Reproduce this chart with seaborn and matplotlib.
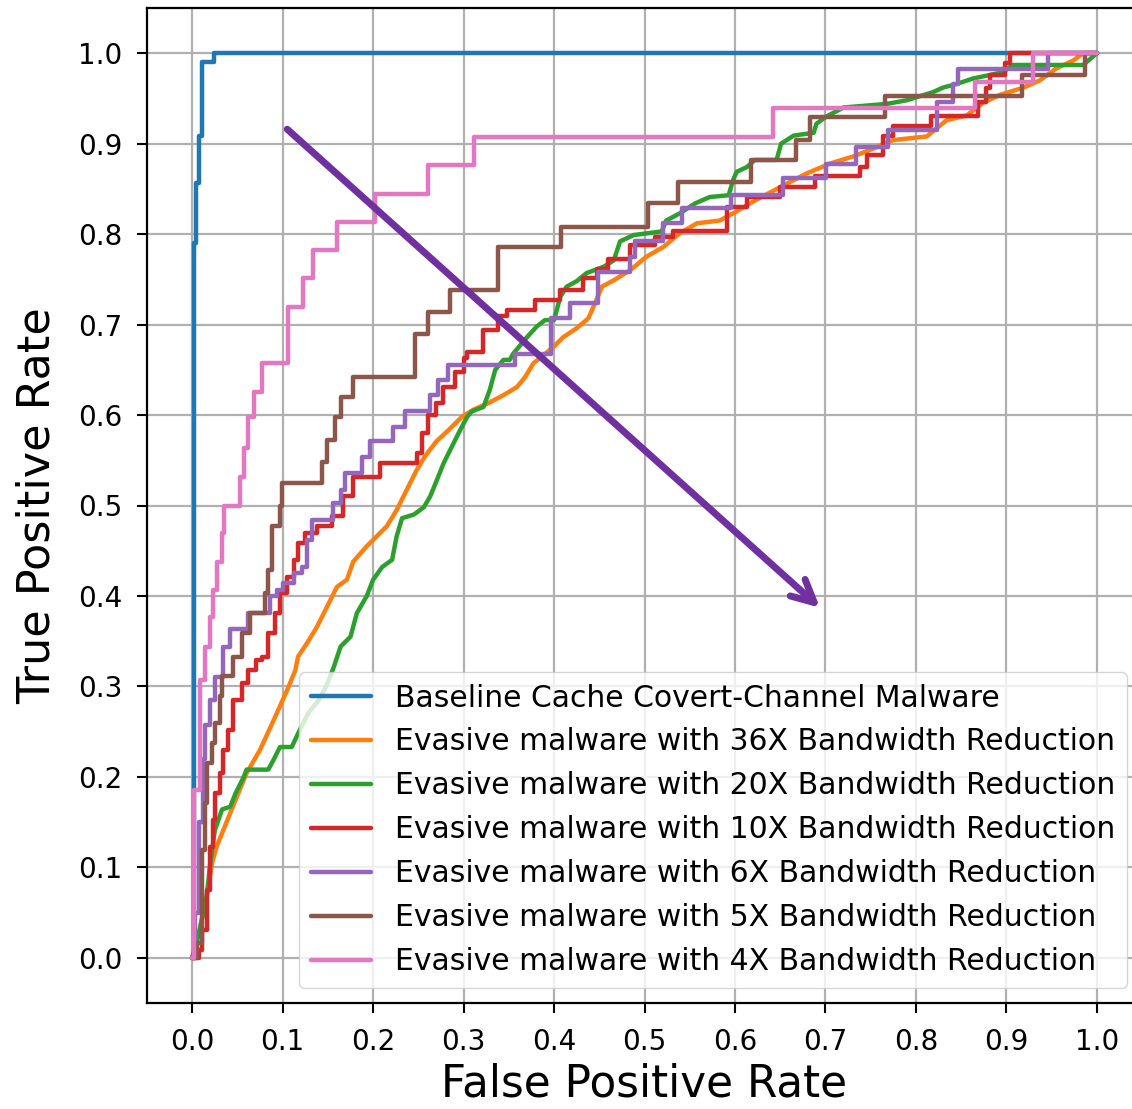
import matplotlib
matplotlib.use("Agg")
import matplotlib.pyplot as plt
import seaborn as sns

# ---------------- data ----------------
labels = [
    "Baseline Cache Covert-Channel Malware",
    "Evasive malware with 36X Bandwidth Reduction",
    "Evasive malware with 20X Bandwidth Reduction",
    "Evasive malware with 10X Bandwidth Reduction",
    "Evasive malware with 6X Bandwidth Reduction",
    "Evasive malware with 5X Bandwidth Reduction",
    "Evasive malware with 4X Bandwidth Reduction",
]

fpr_base = [0, 0.0015, 0.004, 0.007, 0.011, 0.024, 1.0]
tpr_base = [0, 0.79, 0.857, 0.909, 0.99, 1.0, 1.0]

fpr_36x = [0, 0.008, 0.016, 0.022, 0.027, 0.042, 0.06, 0.075, 0.092, 0.105,
           0.114, 0.117, 0.127, 0.138, 0.149, 0.16, 0.171, 0.178, 0.193, 0.2,
           0.215, 0.226, 0.237, 0.248, 0.257, 0.27, 0.283, 0.298, 0.311, 0.327,
           0.344, 0.359, 0.368, 0.377, 0.388, 0.399, 0.41, 0.425, 0.438, 0.445,
           0.453, 0.466, 0.484, 0.502, 0.521, 0.539, 0.558, 0.583, 0.598, 0.62,
           0.65, 0.679, 0.705, 0.731, 0.749, 0.775, 0.812, 0.834, 0.856, 0.874,
           0.893, 0.919, 0.937, 0.955, 0.974, 0.985, 1.0]
tpr_36x = [0, 0.03, 0.068, 0.105, 0.123, 0.16, 0.204, 0.23, 0.267, 0.296,
           0.318, 0.333, 0.348, 0.366, 0.388, 0.41, 0.418, 0.438, 0.455, 0.462,
           0.477, 0.495, 0.517, 0.539, 0.554, 0.571, 0.583, 0.598, 0.606, 0.613,
           0.622, 0.631, 0.642, 0.657, 0.666, 0.675, 0.686, 0.696, 0.707, 0.723,
           0.742, 0.749, 0.76, 0.775, 0.786, 0.801, 0.812, 0.815, 0.823, 0.836,
           0.852, 0.867, 0.878, 0.886, 0.893, 0.904, 0.908, 0.926, 0.931, 0.945,
           0.954, 0.962, 0.97, 0.983, 0.992, 1.0, 1.0]

fpr_20x = [0, 0.008, 0.016, 0.02, 0.025, 0.033, 0.042, 0.048, 0.057, 0.06,
           0.084, 0.09, 0.097, 0.11, 0.118, 0.128, 0.14, 0.148, 0.156, 0.164,
           0.175, 0.182, 0.193, 0.2, 0.21, 0.221, 0.226, 0.232, 0.245, 0.256,
           0.263, 0.27, 0.278, 0.287, 0.296, 0.304, 0.309, 0.322, 0.329, 0.335,
           0.344, 0.351, 0.355, 0.37, 0.381, 0.39, 0.4, 0.407, 0.414, 0.425,
           0.436, 0.455, 0.466, 0.473, 0.488, 0.519, 0.524, 0.539, 0.556, 0.572,
           0.593, 0.598, 0.602, 0.613, 0.622, 0.646, 0.651, 0.665, 0.687, 0.69,
           0.701, 0.72, 0.768, 0.79, 0.819, 0.83, 0.845, 0.863, 0.896, 0.907,
           0.985, 1.0]
tpr_20x = [0, 0.03, 0.068, 0.105, 0.141, 0.164, 0.167, 0.182, 0.2, 0.208,
           0.208, 0.219, 0.233, 0.233, 0.25, 0.27, 0.285, 0.3, 0.32, 0.344,
           0.355, 0.381, 0.4, 0.418, 0.432, 0.44, 0.466, 0.486, 0.49, 0.498,
           0.51, 0.527, 0.547, 0.565, 0.583, 0.598, 0.604, 0.609, 0.628, 0.65,
           0.661, 0.661, 0.668, 0.686, 0.698, 0.705, 0.705, 0.731, 0.742, 0.748,
           0.757, 0.764, 0.771, 0.792, 0.799, 0.803, 0.815, 0.823, 0.834, 0.841,
           0.843, 0.86, 0.869, 0.874, 0.882, 0.882, 0.9, 0.909, 0.912, 0.922,
           0.93, 0.94, 0.944, 0.948, 0.957, 0.962, 0.966, 0.972, 0.979, 0.987,
           0.987, 1.0]

fpr_10x = [0, 0.007, 0.011, 0.016, 0.02, 0.023, 0.025, 0.031, 0.034, 0.04,
           0.045, 0.055, 0.062, 0.071, 0.077, 0.084, 0.092, 0.097, 0.105, 0.112,
           0.117, 0.125, 0.138, 0.154, 0.167, 0.178, 0.208, 0.248, 0.254, 0.261,
           0.27, 0.277, 0.291, 0.3, 0.304, 0.322, 0.338, 0.348, 0.379, 0.407,
           0.432, 0.447, 0.46, 0.484, 0.512, 0.532, 0.591, 0.613, 0.65, 0.688,
           0.738, 0.746, 0.764, 0.775, 0.817, 0.869, 0.878, 0.882, 0.898, 0.904,
           1.0]
tpr_10x = [0, 0.009, 0.031, 0.075, 0.123, 0.152, 0.182, 0.204, 0.23, 0.252,
           0.285, 0.304, 0.318, 0.329, 0.333, 0.359, 0.381, 0.403, 0.421, 0.44,
           0.458, 0.47, 0.477, 0.488, 0.51, 0.532, 0.547, 0.558, 0.58, 0.6,
           0.613, 0.631, 0.648, 0.663, 0.67, 0.694, 0.709, 0.716, 0.727, 0.738,
           0.751, 0.762, 0.773, 0.788, 0.797, 0.804, 0.83, 0.841, 0.852, 0.864,
           0.874, 0.887, 0.908, 0.92, 0.931, 0.946, 0.962, 0.976, 0.989, 1.0,
           1.0]

fpr_6x = [0, 0.003, 0.008, 0.012, 0.014, 0.02, 0.025, 0.034, 0.042, 0.062,
          0.086, 0.094, 0.1, 0.112, 0.121, 0.127, 0.132, 0.156, 0.164, 0.169,
          0.188, 0.197, 0.222, 0.235, 0.263, 0.272, 0.283, 0.357, 0.397, 0.418,
          0.449, 0.484, 0.49, 0.521, 0.541, 0.596, 0.653, 0.701, 0.734, 0.769,
          0.823, 0.841, 0.847, 0.946, 1.0]
tpr_6x = [0, 0.05, 0.15, 0.22, 0.257, 0.285, 0.31, 0.344, 0.364, 0.381,
          0.4, 0.407, 0.414, 0.425, 0.432, 0.462, 0.484, 0.503, 0.517, 0.536,
          0.554, 0.571, 0.587, 0.604, 0.622, 0.639, 0.655, 0.668, 0.707, 0.724,
          0.758, 0.775, 0.792, 0.812, 0.829, 0.843, 0.862, 0.878, 0.896, 0.915,
          0.946, 0.966, 0.983, 1.0, 1.0]

fpr_5x = [0, 0.005, 0.011, 0.014, 0.016, 0.022, 0.025, 0.031, 0.033, 0.045,
          0.055, 0.064, 0.081, 0.084, 0.088, 0.097, 0.099, 0.143, 0.149, 0.158,
          0.165, 0.178, 0.246, 0.261, 0.285, 0.338, 0.408, 0.504, 0.537, 0.618,
          0.668, 0.683, 0.766, 0.917, 0.987, 1.0]
tpr_5x = [0, 0.016, 0.119, 0.171, 0.215, 0.237, 0.26, 0.289, 0.311, 0.333,
          0.359, 0.381, 0.403, 0.429, 0.477, 0.5, 0.525, 0.548, 0.572, 0.598,
          0.62, 0.642, 0.69, 0.714, 0.738, 0.786, 0.808, 0.834, 0.858, 0.882,
          0.904, 0.93, 0.953, 0.976, 1.0, 1.0]

fpr_4x = [0, 0.002, 0.009, 0.014, 0.020, 0.023, 0.027, 0.033, 0.035, 0.053,
          0.057, 0.062, 0.068, 0.077, 0.106, 0.123, 0.134, 0.160, 0.202, 0.261,
          0.311, 0.642, 0.865, 0.929, 1.0]
tpr_4x = [0, 0.186, 0.307, 0.344, 0.377, 0.407, 0.438, 0.47, 0.5, 0.531,
          0.564, 0.598, 0.626, 0.657, 0.719, 0.751, 0.782, 0.813, 0.844, 0.876,
          0.907, 0.939, 0.968, 1.0, 1.0]

ticks = [0.0, 0.1, 0.2, 0.3, 0.4, 0.5, 0.6, 0.7, 0.8, 0.9, 1.0]
arrow_start = (0.105, 0.916)
arrow_end = (0.694, 0.387)

# ---------------- style ----------------
sns.set_style("ticks", {"axes.grid": True, "grid.color": "#b0b0b0",
                        "axes.edgecolor": "black", "xtick.color": "black",
                        "ytick.color": "black", "text.color": "black",
                        "axes.labelcolor": "black"})
plt.rcParams["font.family"] = ["DejaVu Sans"]

palette = sns.color_palette("tab10")
series = [
    (fpr_base, tpr_base, palette[0], "steps-post"),
    (fpr_36x, tpr_36x, palette[1], "default"),
    (fpr_20x, tpr_20x, palette[2], "default"),
    (fpr_10x, tpr_10x, palette[3], "steps-post"),
    (fpr_6x, tpr_6x, palette[4], "steps-post"),
    (fpr_5x, tpr_5x, palette[5], "steps-post"),
    (fpr_4x, tpr_4x, palette[6], "steps-post"),
]

fig = plt.figure(figsize=(11.32, 11.09), dpi=100)
ax = fig.add_axes([147 / 1132, 106 / 1109, 995 / 1132, 995 / 1109])

for (fx, ty, col, ds), lab in zip(series, labels):
    sns.lineplot(x=fx, y=ty, ax=ax, color=col, linewidth=3.2, label=lab,
                 sort=False, estimator=None, drawstyle=ds)

ax.set_xlim(-0.05, 1.05)
ax.set_ylim(-0.05, 1.05)
ax.set_xticks(ticks)
ax.set_yticks(ticks)
ax.set_xticklabels([f"{t:.1f}" for t in ticks])
ax.set_yticklabels([f"{t:.1f}" for t in ticks])
ax.grid(True, color="#b0b0b0", linewidth=1.6)
ax.set_axisbelow(True)
for sp in ax.spines.values():
    sp.set_linewidth(1.6)
    sp.set_color("black")
ax.tick_params(axis="both", labelsize=20, length=7, width=1.5, pad=11,
               direction="out", labelcolor="black")
ax.set_xlabel("False Positive Rate", fontsize=31.5, labelpad=5, color="black")
ax.set_ylabel("True Positive Rate", fontsize=32, labelpad=14, color="black")

ax.annotate("", xy=arrow_end, xytext=arrow_start,
            arrowprops=dict(arrowstyle="->", color="#7030a0", lw=5,
                            mutation_scale=40, shrinkA=0, shrinkB=0))

handles, labs = ax.get_legend_handles_labels()
leg = ax.legend(handles, labs, loc="lower right", fontsize=21.5, frameon=True,
                framealpha=0.8, edgecolor="#cccccc", fancybox=True,
                handlelength=2.0)
for t in leg.get_texts():
    t.set_color("black")

fig.savefig("out.png", dpi=100)
